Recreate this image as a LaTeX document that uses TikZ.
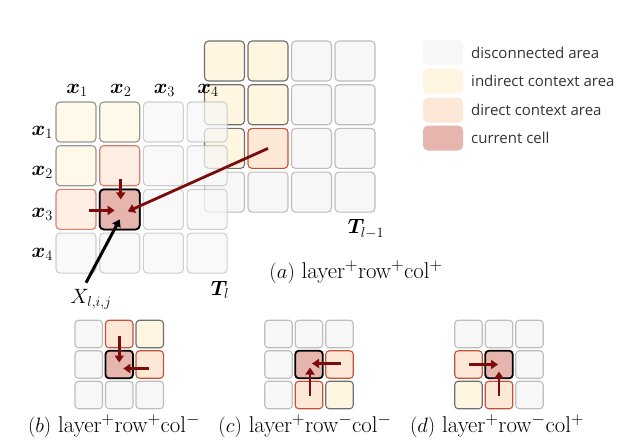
\documentclass[tikz,border=0pt]{standalone}
\usepackage{fontspec}
\usepackage{amsmath}
\usepackage{bm}
\usetikzlibrary{arrows.meta,calc}
\newfontfamily\legfont{Open Sans}
\definecolor{disf}{HTML}{F7F7F7}
\definecolor{disb}{HTML}{BDBDBD}
\definecolor{indf}{HTML}{FFF6E1}
\definecolor{indb}{HTML}{6E6E6E}
\definecolor{dirf}{HTML}{FDE8D8}
\definecolor{dirb}{HTML}{C4513A}
\definecolor{curf}{HTML}{E5B5AE}
\definecolor{arrred}{HTML}{7A0C0C}
\tikzset{
  cellbig/.style={rounded corners=4pt, minimum size=40pt, inner sep=0pt, line width=1.1pt},
  cellsmall/.style={rounded corners=3.5pt, minimum size=27.5pt, inner sep=0pt, line width=1.1pt},
  dis/.style={draw=disb, fill=disf},
  ind/.style={draw=indb, fill=indf},
  dir/.style={draw=dirb, fill=dirf},
  cur/.style={draw=black, fill=curf, line width=1.8pt},
  swatch/.style={rounded corners=5pt, minimum width=40pt, minimum height=25pt, inner sep=0pt},
  legtext/.style={anchor=west, font=\legfont\fontsize{15}{18}\selectfont, text=black!80, inner sep=0pt},
  mlab/.style={font=\fontsize{22}{26}\selectfont, inner sep=0pt},
  xlab/.style={font=\fontsize{20.5}{24}\selectfont, inner sep=0pt},
  caption/.style={font=\fontsize{22.8}{27}\selectfont, inner sep=0pt, anchor=base},
  darr/.style={draw=arrred, line width=2.8pt, -{Triangle[width=9pt,length=7pt]}},
  barr/.style={draw=black, line width=3pt, -{Triangle[width=9pt,length=7pt]}}
}
\begin{document}
\begin{tikzpicture}[x=1pt,y=-1pt]
\useasboundingbox (0,0) rectangle (628,442);
% T_{l-1}
\foreach \r/\c/\s in {1/1/ind,1/2/ind,1/3/dis,1/4/dis,
                      2/1/ind,2/2/ind,2/3/dis,2/4/dis,
                      3/1/ind,3/2/dir,3/3/dis,3/4/dis,
                      4/1/dis,4/2/dis,4/3/dis,4/4/dis}
  \node[cellbig,\s] (P\r\c) at ({224.5+43.5*(\c-1)},{61+43.7*(\r-1)}) {};
% T_l
\begin{scope}[every node/.append style={opacity=0.72}]
\foreach \r/\c/\s in {1/1/ind,1/2/ind,1/3/dis,1/4/dis,
                      2/1/ind,2/2/dir,2/3/dis,2/4/dis,
                      3/1/dir,3/2/cur,3/3/dis,3/4/dis,
                      4/1/dis,4/2/dis,4/3/dis,4/4/dis}
  \node[cellbig,\s] (L\r\c) at ({76+43.7*(\c-1)},{122+43.7*(\r-1)}) {};
\end{scope}
\node[cellbig,cur] (Lcur) at (L32) {};
% labels
\foreach \c in {1,2,3,4}
  \node[xlab,anchor=base] (cx\c) at ({77+43.7*(\c-1)},93) {$\bm{x}_{\c}$};
\foreach \r/\y in {1/135,2/175,3/217,4/257}
  \node[xlab,anchor=base east] (rx\r) at (53,\y) {$\bm{x}_{\r}$};
\node[mlab] (Tl) at (220,290) {$\bm{T}_l$};
\node[mlab] (Tlm) at (366,229) {$\bm{T}_{l-1}$};
\node[mlab] (X) at (91,299) {$X_{l,i,j}$};
\node[caption] (capa) at (356,278) {$(a)$ layer$^{+}$row$^{+}$col$^{+}$};
% arrows in (a)
\draw[darr] ($(L22.center)+(1,13)$) -- ($(Lcur.center)+(1,-10)$);
\draw[darr] ($(L31.center)+(13,1)$) -- ($(Lcur.center)+(-5,1)$);
\draw[darr] (P32.center) -- ($(Lcur.center)+(8,2)$);
\draw[barr] ($(X.north)+(-5,-6)$) -- ($(Lcur.center)+(0,10)$);
% legend
\node[swatch,fill=disf] (s1) at (443,52.5) {};
\node[swatch,fill=indf] (s2) at (443,81) {};
\node[swatch,fill=dirf] (s3) at (443,110) {};
\node[swatch,fill=curf] (s4) at (443,138) {};
\node[legtext] (t1) at (471,52.5) {disconnected area};
\node[legtext] (t2) at (471,81) {indirect context area};
\node[legtext] (t3) at (471,110) {direct context area};
\node[legtext] (t4) at (471,138) {current cell};
% panel b
\foreach \r/\c/\s in {1/1/dis,1/2/dir,1/3/ind,
                      2/1/dis,2/2/cur,2/3/dir,
                      3/1/dis,3/2/dis,3/3/dis}
  \node[cellsmall,\s] (b\r\c) at ({88.75+30.5*(\c-1)},{334+30.5*(\r-1)}) {};
\draw[darr] ($(b12.center)+(0,2)$) -- ($(b22.center)+(0,-2)$);
\draw[darr] ($(b23.center)+(-1,4)$) -- ($(b22.center)+(4,4)$);
\node[caption] (capb) at (114,432) {$(b)$ layer$^{+}$row$^{+}$col$^{-}$};
% panel c
\foreach \r/\c/\s in {1/1/dis,1/2/dis,1/3/dis,
                      2/1/dis,2/2/cur,2/3/dir,
                      3/1/dis,3/2/dir,3/3/ind}
  \node[cellsmall,\s] (c\r\c) at ({278.5+30.5*(\c-1)},{334+30.5*(\r-1)}) {};
\draw[darr] ($(c23.center)+(1,-1)$) -- ($(c22.center)+(3,-1)$);
\draw[darr] ($(c32.center)+(1,1)$) -- ($(c22.center)+(1,3)$);
\node[caption] (capc) at (305,432) {$(c)$ layer$^{+}$row$^{-}$col$^{-}$};
% panel d
\foreach \r/\c/\s in {1/1/dis,1/2/dis,1/3/dis,
                      2/1/dir,2/2/cur,2/3/dis,
                      3/1/ind,3/2/dir,3/3/dis}
  \node[cellsmall,\s] (d\r\c) at ({468.5+30.5*(\c-1)},{334+30.5*(\r-1)}) {};
\draw[darr] ($(d21.center)+(0,0)$) -- ($(d22.center)+(-1,0)$);
\draw[darr] ($(d32.center)+(0,1)$) -- ($(d22.center)+(0,7)$);
\node[caption] (capd) at (497,432) {$(d)$ layer$^{+}$row$^{-}$col$^{+}$};
\end{tikzpicture}
\end{document}
